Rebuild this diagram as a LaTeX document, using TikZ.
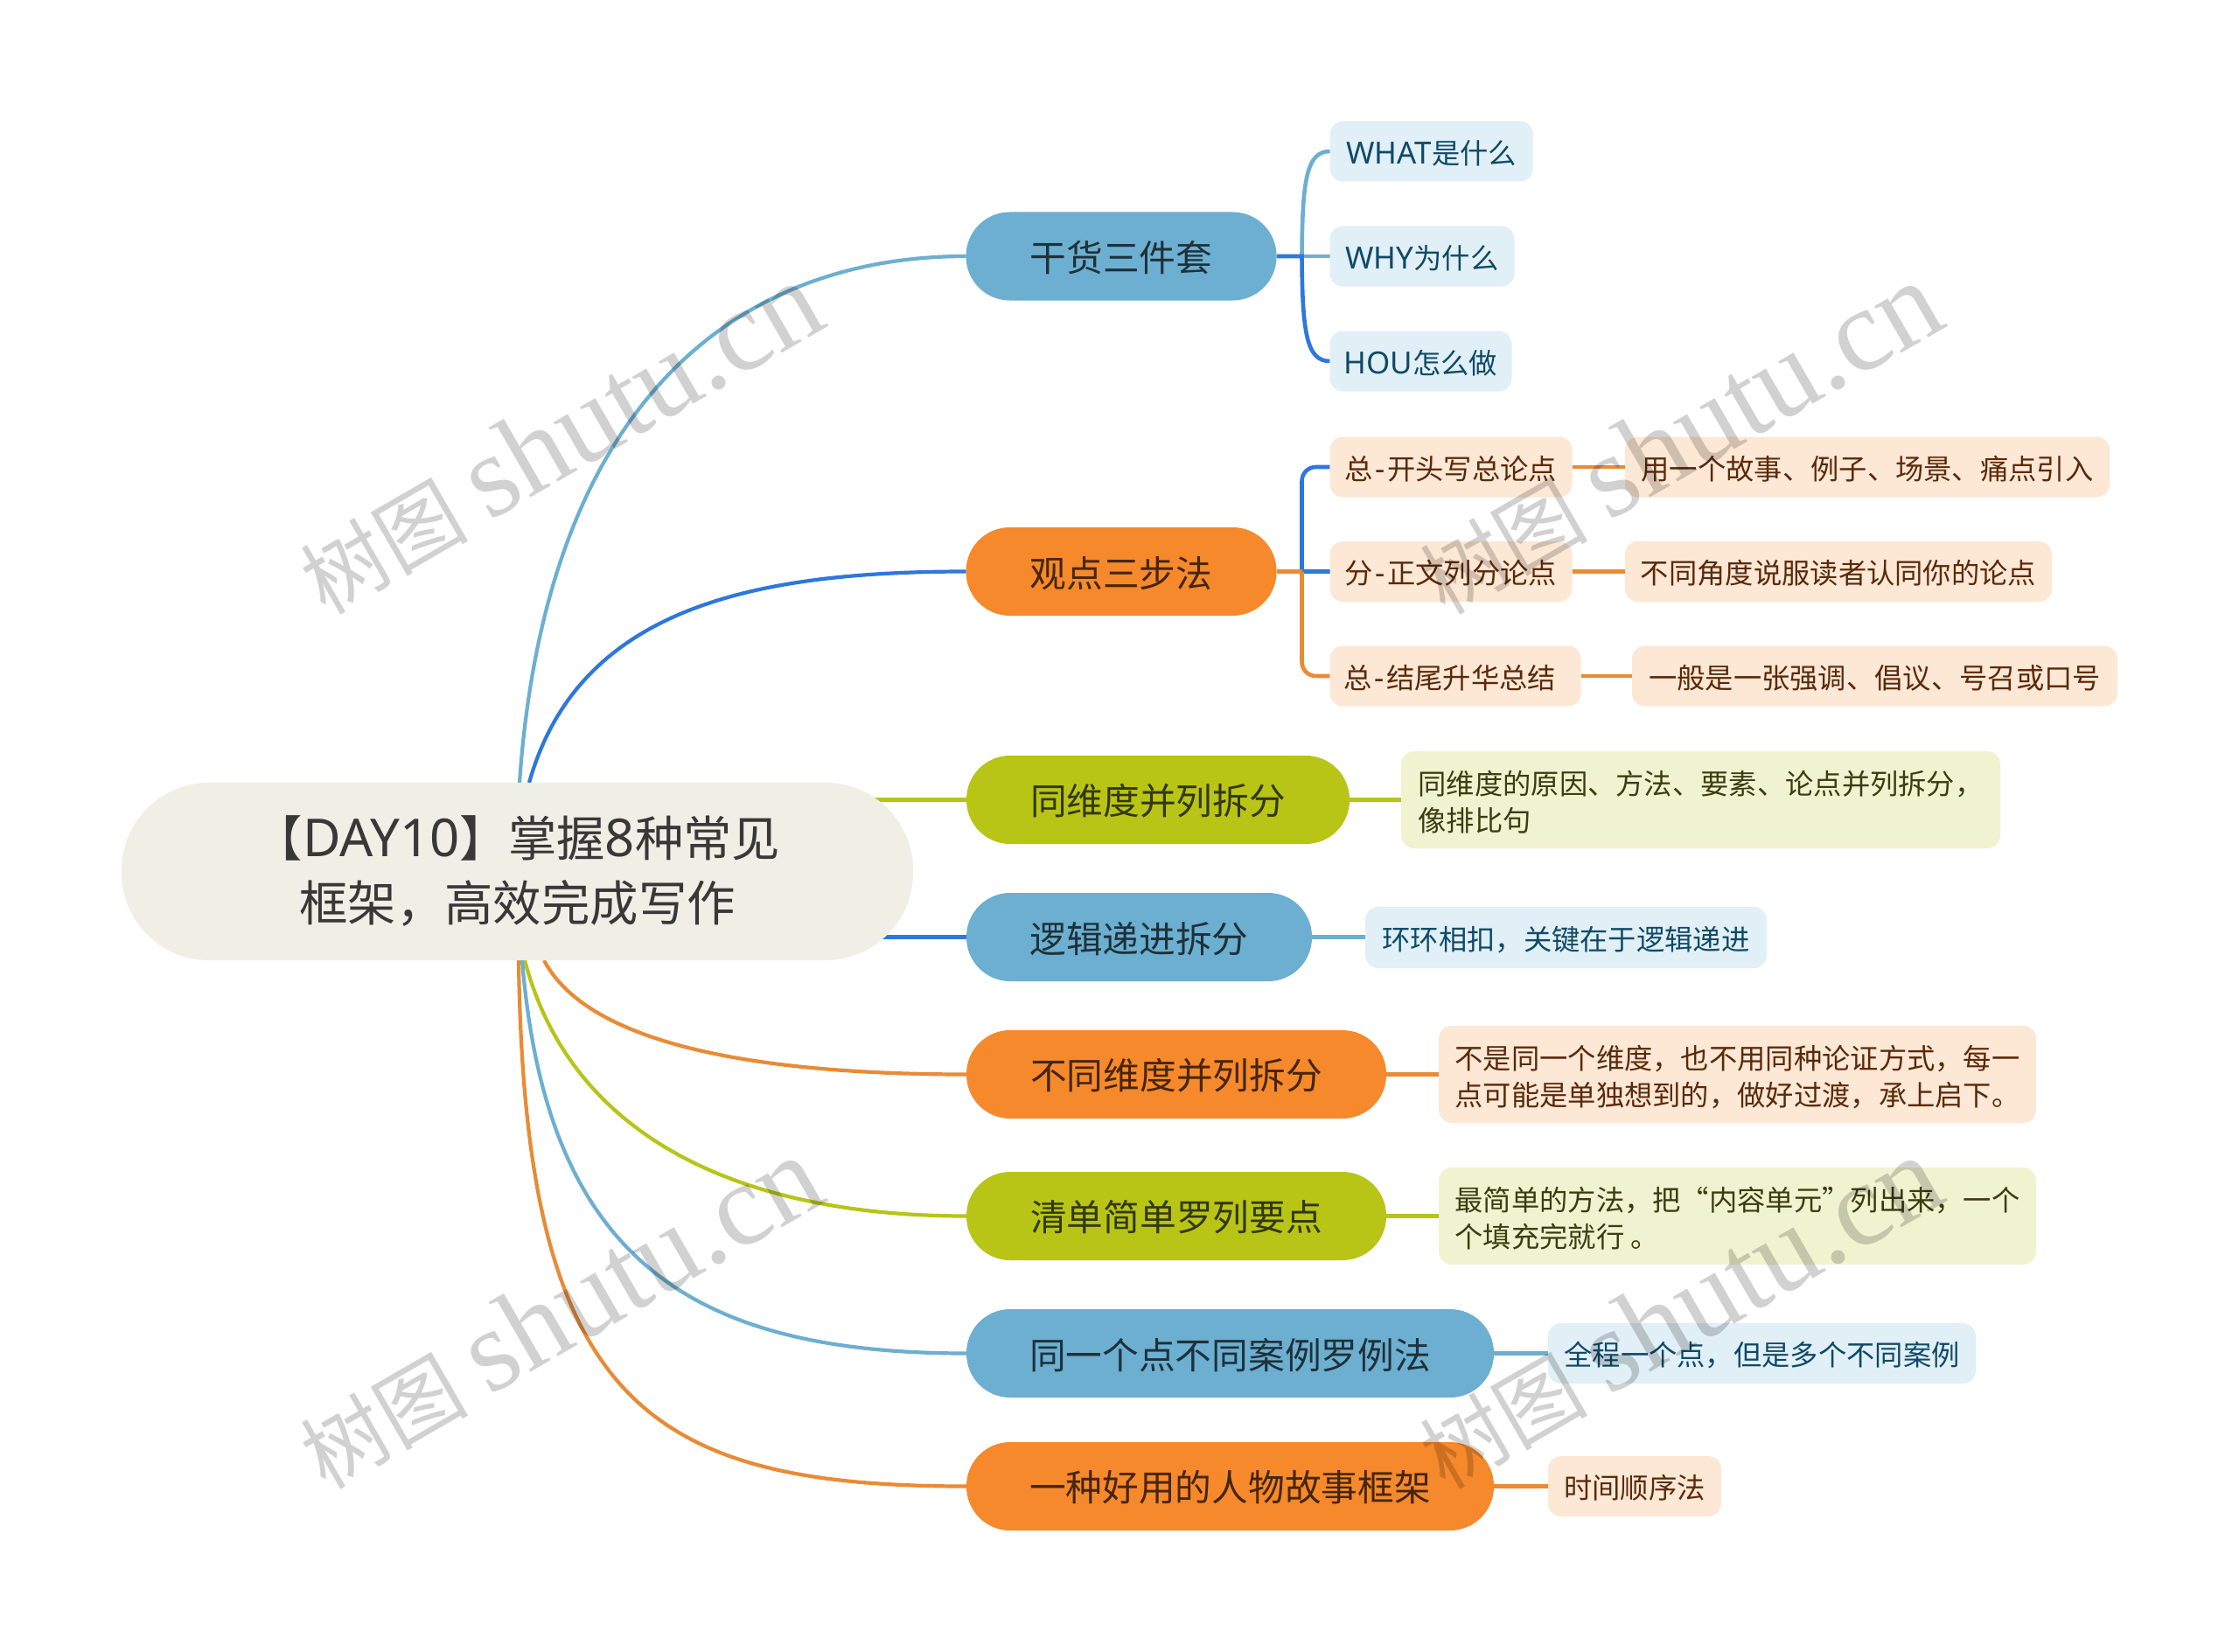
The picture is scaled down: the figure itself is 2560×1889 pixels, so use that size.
\documentclass[tikz,border=0pt]{standalone}
\usepackage{fontspec}
\setmainfont{Noto Sans CJK SC}
\newfontfamily\lat[Scale=1.08]{Noto Sans}
\newfontfamily\wmlat{Liberation Serif}
\usetikzlibrary{backgrounds}
\definecolor{cLB}{HTML}{6CAFD0}
\definecolor{cB}{HTML}{2E77DC}
\definecolor{cG}{HTML}{B8C416}
\definecolor{cO}{HTML}{F6892B}
\definecolor{lnO}{HTML}{E98B35}
\definecolor{lfB}{HTML}{E1EFF6}
\definecolor{lfO}{HTML}{FDE7D5}
\definecolor{lfG}{HTML}{F0F3D0}
\definecolor{tB}{HTML}{0F4A66}
\definecolor{tO}{HTML}{5A2A0A}
\definecolor{tG}{HTML}{3A3D10}
\definecolor{rootc}{HTML}{EFEFE6}
\newcommand{\hy}{\kern2.5pt{\lat -}\kern2.5pt}
\newcommand{\rl}{\rule{0pt}{33pt}}
\tikzset{
  x=1pt,y=1pt,
  rootbox/.style={fill=rootc,rounded corners=100pt,inner sep=0pt,outer sep=0pt,align=center,text=black!78,font=\fontsize{55.4}{74}\selectfont},
  branchbox/.style={rounded corners=50pt,inner sep=0pt,outer sep=0pt,minimum height=101pt,font=\fontsize{41.7}{50}\selectfont,execute at begin node={\rule{0pt}{38.5pt}}},
  leafbox/.style={rounded corners=15pt,inner sep=0pt,outer sep=0pt,font=\fontsize{32.3}{42}\selectfont,align=left},
  oneline/.style={execute at begin node={\rule{0pt}{31.5pt}}},
  bLB/.style={branchbox,fill=cLB,text=black!72!cLB},
  bO/.style={branchbox,fill=cO,text=black!72!cO},
  bG/.style={branchbox,fill=cG,text=black!72!cG},
  lB/.style={leafbox,fill=lfB,text=tB},
  lO/.style={leafbox,fill=lfO,text=tO},
  lG/.style={leafbox,fill=lfG,text=tG},
  lnk/.style={line width=4.6pt},
  lnkthin/.style={line width=4.2pt},
  wm/.style={anchor=base west,rotate=30,inner sep=0pt,text=black,text opacity=.18},
}
\newcommand{\wmark}[2]{\node[wm] at (#1,#2) {\fontsize{96}{96}\selectfont 树图\hspace{24pt}{\wmlat\fontsize{134}{134}\selectfont shutu.cn}};}
\begin{document}
\begin{tikzpicture}
\useasboundingbox (0,0) rectangle (2560,-1889);
% root
\node[rootbox,minimum width=905pt,minimum height=203pt] (root) at (591.5,-996.5) {【{\lat DAY10}】掌握{\lat 8}种常见\\框架，高效完成写作};
% branches
\node[bLB,minimum width=355pt] (b1) at (1282,-293) {干货三件套};
\node[bO,minimum width=355pt] (b2) at (1282,-653.5) {观点三步法};
\node[bG,minimum width=438pt] (b3) at (1324,-914.5) {同维度并列拆分};
\node[bLB,minimum width=395pt] (b4) at (1302.5,-1071.5) {逻辑递进拆分};
\node[bO,minimum width=480pt] (b5) at (1345,-1228.5) {不同维度并列拆分};
\node[bG,minimum width=480pt] (b6) at (1345,-1390.5) {清单简单罗列要点};
\node[bLB,minimum width=603pt] (b7) at (1406.5,-1547.5) {同一个点不同案例罗例法};
\node[bO,minimum width=603pt] (b8) at (1406.5,-1699.5) {一种好用的人物故事框架};
% leaves
\node[lB,oneline,minimum width=232pt,minimum height=69pt] (l1) at (1636.7,-173) {{\lat WHAT}是什么};
\node[lB,oneline,minimum width=211pt,minimum height=69pt] (l2) at (1626,-293) {{\lat WHY}为什么};
\node[lB,oneline,minimum width=208pt,minimum height=69pt] (l3) at (1624.5,-413) {{\lat HOU}怎么做};
\node[lO,oneline,minimum width=277pt,minimum height=69pt] (l4) at (1659,-534) {总\hy 开头写总论点};
\node[lO,oneline,minimum width=277pt,minimum height=69pt] (l5) at (1659,-653.5) {分\hy 正文列分论点};
\node[lO,oneline,minimum width=287pt,minimum height=69pt] (l6) at (1664,-773) {总\hy 结尾升华总结\kern12pt};
\node[lO,oneline,minimum width=554pt,minimum height=69pt] (s1) at (2135,-534) {用一个故事、例子、场景、痛点引入};
\node[lO,oneline,minimum width=488pt,minimum height=69pt] (s2) at (2102,-653.5) {不同角度说服读者认同你的论点};
\node[lO,oneline,minimum width=555pt,minimum height=69pt] (s3) at (2143.5,-773) {一般是一张强调、倡议、号召或口号};
\node[lG,minimum width=685pt,minimum height=111pt] (l7) at (1944.5,-914.5) {\rl 同维度的原因、方法、要素、论点并列拆分，\\像排比句};
\node[lB,oneline,minimum width=459pt,minimum height=70pt] (l8) at (1790.5,-1072) {环环相扣，关键在于逻辑递进};
\node[lO,minimum width=683pt,minimum height=111pt] (l9) at (1986.5,-1228.5) {\rl 不是同一个维度，也不用同种论证方式，每一\\点可能是单独想到的，做好过渡，承上启下。};
\node[lG,minimum width=683pt,minimum height=111pt] (l10) at (1986.5,-1390.5) {\rl 最简单的方法，把“内容单元”列出来，一个\\个填充完就行 。};
\node[lB,oneline,minimum width=489pt,minimum height=69pt] (l11) at (2014.5,-1547.5) {全程一个点，但是多个不同案例};
\node[lO,oneline,minimum width=198pt,minimum height=69pt] (l12) at (1869,-1699.5) {时间顺序法};
% junctions and free ends
\coordinate (j1) at (1488.5,-293);
\coordinate (j2) at (1488.5,-653.5);
\coordinate (r1) at (594,-895);
\coordinate (r2) at (605,-895);
\coordinate (r5) at (622,-1098);
\coordinate (r6) at (600,-1098);
\coordinate (r7) at (597,-1098);
\coordinate (r8) at (593,-1098);
\begin{scope}[on background layer]
\fill[white] (0,0) rectangle (2560,-1889);
\draw[lnkthin,cLB] (r1) .. controls (625,-450) and (850,-293) .. (b1.west);
\draw[lnkthin,cB] (r2) .. controls (660,-700) and (850,-653.5) .. (b2.west);
\draw[lnk,cG] (root.center |- b3.west) -- (b3.west);
\draw[lnk,cB] (root.center |- b4.west) -- (b4.west);
\draw[lnkthin,lnO] (r5) .. controls (670,-1190) and (850,-1228.5) .. (b5.west);
\draw[lnkthin,cG] (r6) .. controls (650,-1290) and (830,-1390.5) .. (b6.west);
\draw[lnkthin,cLB] (r7) .. controls (625,-1440) and (790,-1547.5) .. (b7.west);
\draw[lnkthin,lnO] (r8) .. controls (600,-1600) and (735,-1699.5) .. (b8.west);
% first group
\draw[lnk,cLB] (j1) .. controls (1489,-205) and (1494,-173) .. (l1.west);
\draw[lnk,cLB] (j1) -- (l2.west);
\draw[lnk,cB] (b1.east) -- (j1) .. controls (1489,-381) and (1494,-413) .. (l3.west);
% second group
\draw[lnk,cB,rounded corners=16pt] (j2) |- (l4.west);
\draw[lnk,cB] (j2) -- (l5.west);
\draw[lnk,lnO] (b2.east) -- (j2);
\draw[lnk,lnO,rounded corners=16pt] (j2) |- (l6.west);
\draw[lnk,lnO] (l4.east) -- (s1.west);
\draw[lnk,lnO] (l5.east) -- (s2.west);
\draw[lnk,lnO] (l6.east) -- (s3.west);
\draw[lnk,cG] (b3.east) -- (l7.west);
\draw[lnk,cLB] (b4.east) -- (b4.east -| l8.west);
\draw[lnk,lnO] (b5.east) -- (l9.west);
\draw[lnk,cG] (b6.east) -- (l10.west);
\draw[lnk,cLB] (b7.east) -- (l11.west);
\draw[lnk,lnO] (b8.east) -- (l12.west);
\end{scope}
% watermarks
\wmark{372}{-705}
\wmark{1652}{-705}
\wmark{372}{-1705}
\wmark{1652}{-1705}
\end{tikzpicture}
\end{document}
